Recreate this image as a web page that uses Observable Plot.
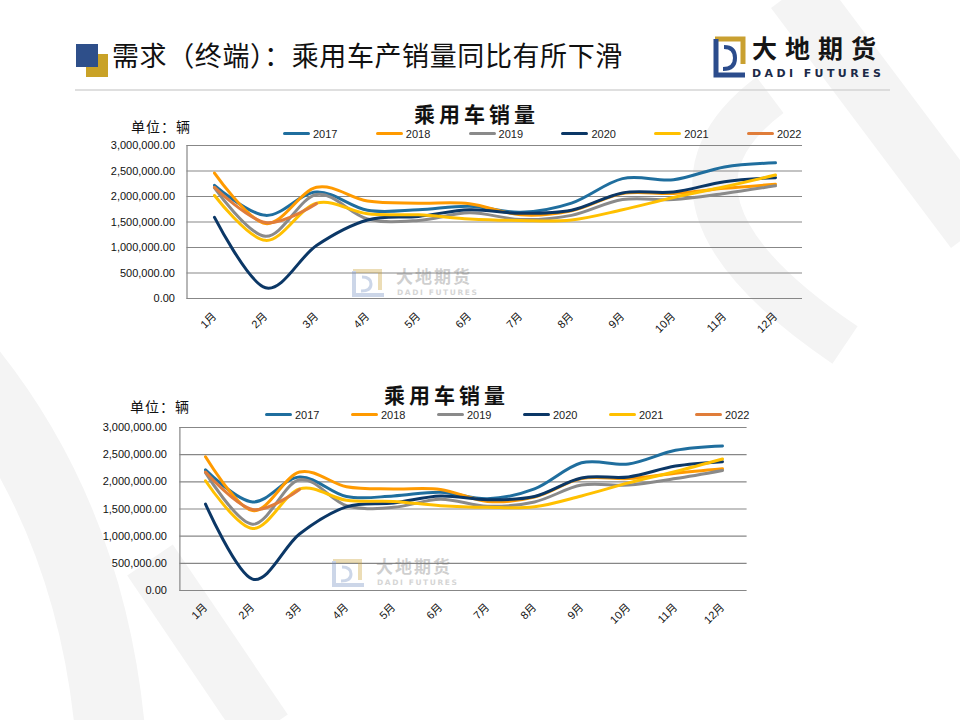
<!DOCTYPE html>
<html><head><meta charset="utf-8">
<script src="https://cdn.jsdelivr.net/npm/d3@7"></script>
<script src="https://cdn.jsdelivr.net/npm/@observablehq/plot@0.6"></script>
<style>
body{margin:0;background:#fff;}
#page{position:relative;width:960px;height:720px;overflow:hidden;background:#fff;font-family:"Noto Sans CJK SC",sans-serif;}
.abs{position:absolute;white-space:nowrap;}
.legend-item{position:absolute;height:14px;font-family:"Liberation Sans","Noto Sans CJK SC",sans-serif;font-size:11px;color:#222;line-height:14px;}
.legend-item .sw{position:absolute;left:0;top:5px;width:27px;height:3px;border-radius:1.5px;}
.legend-item .tx{position:absolute;left:30px;top:0;}
</style></head>
<body><div id="page">
<svg class="abs" style="left:0;top:0" width="960" height="720">
  <g fill="none" stroke="#f4f4f4" stroke-linecap="butt">
    <path d="M795,-10 L975,230" stroke-width="60"/>
    <path d="M770,95 Q630,200 845,345" stroke-width="45"/>
    <path d="M-30,370 Q90,520 110,730" stroke-width="70"/>
    <path d="M150,560 L265,730" stroke-width="55"/>
  </g>
  <rect x="86" y="54" width="22" height="23" fill="#C9A227"/>
  <rect x="76" y="44" width="22" height="23" fill="#2E4F8A"/>
  <line x1="75" y1="90" x2="890" y2="90" stroke="#d4d4d4" stroke-width="1.5"/>
  <g transform="translate(711,36)">
    <path d="M4,3 L32,3 L32,28" fill="none" stroke="#C9A030" stroke-width="5"/>
    <path d="M5,3 L5,39 L34,39" fill="none" stroke="#2B4C8C" stroke-width="5"/>
    <path d="M13,11 Q24,11 24,22 Q24,33 12,33" fill="none" stroke="#2B4C8C" stroke-width="4"/>
  </g>
</svg>
<div class="abs" style="left:112px;top:37px;font-size:27px;line-height:36px;letter-spacing:0.6px;color:#111;">需求（终端）：乘用车产销量同比有所下滑</div>
<div class="abs" style="left:752px;top:35px;font-size:25px;line-height:25px;font-weight:bold;letter-spacing:8px;color:#151515;">大地期货</div>
<div class="abs" style="left:752px;top:68px;font-family:'DejaVu Sans',sans-serif;font-size:11px;line-height:12px;font-weight:bold;letter-spacing:3.4px;color:#1c2a48;">DADI FUTURES</div>
<div id="c1"></div>
<div id="c2"></div>
</div>
<script>
const months = ["1月","2月","3月","4月","5月","6月","7月","8月","9月","10月","11月","12月"];
const years = ["2017","2018","2019","2020","2021","2022"];
const colors = ["#1F6E9E","#FF9A00","#8A8A8A","#0B3766","#FFC000","#E07D3A"];
const yTicks = [0, 500000, 1000000, 1500000, 2000000, 2500000, 3000000];
const s2017 = [2220000,1630000,2090000,1730000,1740000,1810000,1690000,1870000,2350000,2330000,2580000,2660000];
const s2018 = [2460000,1470000,2180000,1910000,1870000,1860000,1640000,1720000,2060000,2060000,2160000,2240000];
const s2019 = [2170000,1220000,2040000,1560000,1530000,1680000,1550000,1630000,1940000,1940000,2060000,2210000];
const s2020 = [1590000,210000,1040000,1540000,1610000,1740000,1670000,1730000,2070000,2090000,2290000,2370000];
const s2021 = [2020000,1140000,1870000,1660000,1640000,1560000,1530000,1540000,1740000,1980000,2190000,2420000];
const s2022 = [2180000,1490000,1860000];
const series = [s2017,s2018,s2019,s2020,s2021,s2022];
const chartTitle = "乘用车销量";
const unitLabel = "单位：辆";

const rows = [];
series.forEach((vals, i) => vals.forEach((v, j) => rows.push({year: years[i], month: months[j], value: v})));

function makeChart(host, o) {
  const page = document.getElementById(host);
  page.className = "abs";
  page.style.left = "0px"; page.style.top = o.top + "px";
  const plot = Plot.plot({
    width: 960, height: o.height,
    marginLeft: o.ml, marginRight: o.mr, marginTop: o.mt, marginBottom: o.mb,
    style: {background: "transparent", fontFamily: "'Liberation Sans','Noto Sans CJK SC',sans-serif", fontSize: "11px", color: "#111", overflow: "visible"},
    x: {type: "point", domain: months, padding: 0.5, label: null},
    y: {domain: [0, 3000000], label: null},
    color: {domain: years, range: colors},
    marks: [
      Plot.ruleY(yTicks, {stroke: "#878787", strokeWidth: 1.2}),
      Plot.frame({anchor: "left", stroke: "#878787", strokeWidth: 1.2}),
      Plot.axisY({ticks: yTicks, tickFormat: d3.format(",.2f"), tickSize: 0, tickPadding: o.yPad, fontSize: 11, fill: "#111", label: null}),
      Plot.axisX({tickSize: 0, tickPadding: o.xPad, tickRotate: -45, fontSize: 11, fill: "#111", label: null}),
      Plot.line(rows, {x: "month", y: "value", z: "year", stroke: "year", strokeWidth: 3, curve: "cardinal", strokeLinejoin: "round", strokeLinecap: "round"})
    ]
  });
  page.appendChild(plot);
  const pg = document.getElementById("page");
  const t = document.createElement("div");
  t.className = "abs";
  t.style.cssText = `left:${o.titleX}px;top:${o.titleY}px;font-size:21px;line-height:26px;font-weight:bold;letter-spacing:4px;color:#111;`;
  t.textContent = chartTitle; pg.appendChild(t);
  const u = document.createElement("div");
  u.className = "abs";
  u.style.cssText = `left:${o.unitX}px;top:${o.unitY}px;font-size:14px;line-height:18px;letter-spacing:1px;color:#111;`;
  u.textContent = unitLabel; pg.appendChild(u);
  years.forEach((y, i) => {
    const it = document.createElement("div");
    it.className = "legend-item";
    it.style.left = (o.legX + i * o.legStep) + "px";
    it.style.top = (o.legY - 7) + "px";
    it.innerHTML = `<div class="sw" style="background:${colors[i]}"></div><div class="tx">${y}</div>`;
    pg.appendChild(it);
  });
  const w = document.createElement("div");
  w.className = "abs";
  w.style.cssText = `left:${o.wmX}px;top:${o.wmY}px;opacity:0.35;`;
  w.innerHTML = `<svg width="40" height="30" style="position:absolute;left:0;top:0"><path d="M3,3 L30,3 L30,22" fill="none" stroke="#C9A030" stroke-width="4"/><path d="M4,3 L4,27 L34,27" fill="none" stroke="#6E8CC0" stroke-width="4"/><path d="M12,9 Q21,9 21,16 Q21,23 11,23" fill="none" stroke="#6E8CC0" stroke-width="3"/></svg>
  <div style="position:absolute;left:46px;top:-2px;font-size:17px;line-height:20px;font-weight:bold;letter-spacing:2px;color:#777;white-space:nowrap;">大地期货</div>
  <div style="position:absolute;left:47px;top:20px;font-family:'DejaVu Sans',sans-serif;font-size:7.5px;line-height:9px;font-weight:bold;letter-spacing:1.6px;color:#888;white-space:nowrap;">DADI FUTURES</div>`;
  pg.appendChild(w);
}

makeChart("c1", {top: 100, height: 260, ml: 186.5, mr: 158, mt: 45, mb: 62, yPad: 12, xPad: 16,
  titleX: 414, titleY: 100, unitX: 131, unitY: 117, legX: 283, legStep: 92.8, legY: 134, wmX: 350, wmY: 268});
makeChart("c2", {top: 380, height: 280, ml: 179.4, mr: 213.4, mt: 47, mb: 70, yPad: 13, xPad: 15,
  titleX: 384, titleY: 381, unitX: 130, unitY: 397, legX: 265, legStep: 86, legY: 415, wmX: 330, wmY: 558});
</script>
</body></html>
